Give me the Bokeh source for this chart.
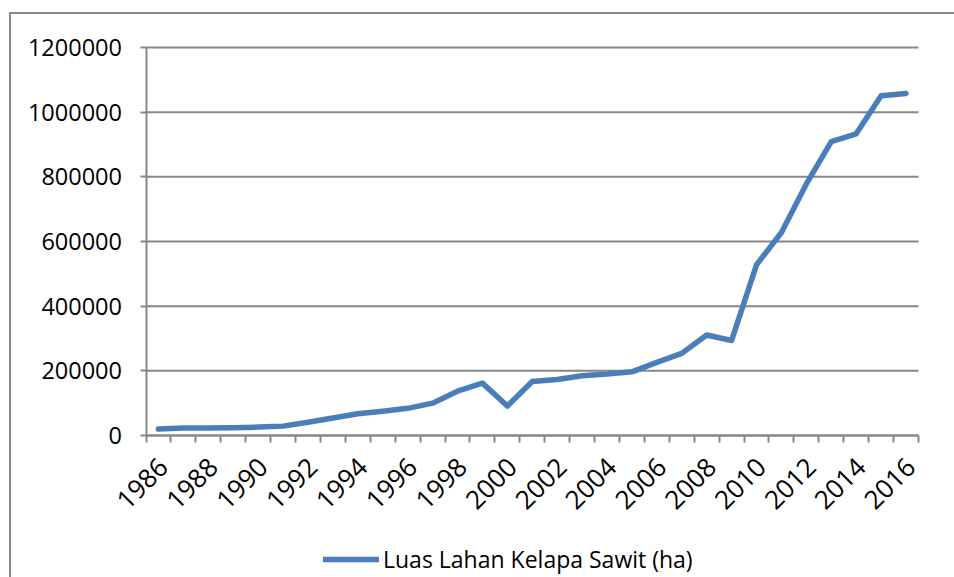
import math
from bokeh.plotting import figure
from bokeh.models import (FixedTicker, NumeralTickFormatter, Range1d, Legend, LegendItem,
                          ColumnDataSource)
from bokeh.embed import file_html
from bokeh.resources import INLINE

years = list(range(1986, 2017))
luas_lahan = [20000, 23000, 23500, 24000, 26000, 29000, 41000, 54000, 67000, 75000,
              84000, 100000, 137000, 162000, 91000, 167000, 173000, 185000, 190000, 197000,
              226000, 254000, 311000, 294000, 528000, 628000, 778000, 909000, 933000, 1051000,
              1058000]
series_label = "Luas Lahan Kelapa Sawit (ha)"
y_ticks = [0, 200000, 400000, 600000, 800000, 1000000, 1200000]
x_label_years = list(range(1986, 2017, 2))

FONT = "Open Sans"
GRAY = "#878787"

# canvas and plot-area geometry (pixels)
W, H = 954, 577
AREA_L, AREA_R, AREA_T, AREA_B = 145.5, 918, 47, 435
Y_MAX = 1200000
X_LO, X_HI = years[0] - 0.5, years[-1] + 0.5
LABEL_SHIFT = 0.2   # rotated year labels sit slightly right of the category centre

# the frame covers the whole canvas; axes are drawn at fixed locations inside it
px_per_cat = (AREA_R - AREA_L) / (X_HI - X_LO)
px_per_val = (AREA_B - AREA_T) / Y_MAX
x_range = Range1d(X_LO - AREA_L / px_per_cat, X_HI + (W - AREA_R) / px_per_cat)
y_range = Range1d(-(H - AREA_B) / px_per_val, Y_MAX + AREA_T / px_per_val)

p = figure(width=W, height=H, output_backend="svg", toolbar_location=None,
           x_range=x_range, y_range=y_range,
           min_border_left=0, min_border_right=0, min_border_top=0, min_border_bottom=0)
p.styles = {
    "background-image": "linear-gradient(#898989, #898989), linear-gradient(#898989, #898989)",
    "background-size": "2px 100%, 100% 2px",
    "background-position": "9px 12px, 9px 12px",
    "background-repeat": "no-repeat",
}
p.outline_line_color = None
p.background_fill_color = None
p.border_fill_color = None
p.xgrid.grid_line_color = None
p.ygrid.grid_line_color = None

# horizontal gridlines across the plot area
p.segment(x0=X_LO, x1=X_HI, y0=y_ticks, y1=y_ticks, line_color=GRAY, line_width=2)

src = ColumnDataSource(dict(x=years, y=luas_lahan))
r = p.line("x", "y", source=src, line_color="#4A7EBB", line_width=5.5,
           line_join="round", line_cap="round")

# category (x) axis at value 0
xa = p.xaxis[0]
xa.fixed_location = 0
xa.bounds = (X_LO, X_HI)
xa.ticker = FixedTicker(ticks=[y + LABEL_SHIFT for y in x_label_years],
                        minor_ticks=[y - 0.5 for y in years] + [years[-1] + 0.5])
xa.formatter = NumeralTickFormatter(format="0")
xa.major_tick_out = 0
xa.major_tick_in = 0
xa.minor_tick_out = 7
xa.minor_tick_in = 0
xa.minor_tick_line_color = GRAY
xa.minor_tick_line_width = 2
xa.axis_line_color = GRAY
xa.axis_line_width = 2
xa.major_label_orientation = math.pi / 4
xa.major_label_text_font = FONT
xa.major_label_text_font_size = "26px"
xa.major_label_text_color = "black"
xa.major_label_standoff = 20

# value (y) axis at the first category boundary
ya = p.yaxis[0]
ya.fixed_location = X_LO
ya.bounds = (0, Y_MAX)
ya.ticker = FixedTicker(ticks=y_ticks)
ya.formatter = NumeralTickFormatter(format="0")
ya.major_tick_out = 6
ya.major_tick_in = 0
ya.minor_tick_line_color = None
ya.major_tick_line_color = GRAY
ya.major_tick_line_width = 2
ya.axis_line_color = GRAY
ya.axis_line_width = 2
ya.major_label_text_font = FONT
ya.major_label_text_font_size = "23.5px"
ya.major_label_text_color = "black"
ya.major_label_standoff = 18

legend = Legend(items=[LegendItem(label=series_label, renderers=[r])],
                location=(323, 2), orientation="horizontal",
                glyph_width=56, glyph_height=20, label_standoff=4,
                label_text_font=FONT, label_text_font_size="23px", label_text_color="black",
                border_line_color=None, background_fill_alpha=0,
                padding=0, margin=0, spacing=0)
p.add_layout(legend, "center")

open("out.html", "w").write(file_html(p, INLINE))
